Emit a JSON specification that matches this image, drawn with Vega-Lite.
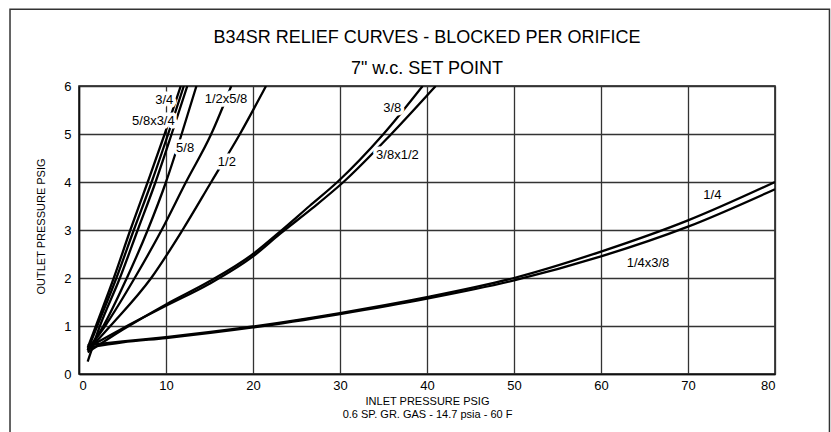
{
  "$schema": "https://vega.github.io/schema/vega-lite/v6.json",
  "width": 696,
  "height": 288,
  "autosize": {"type": "none"},
  "padding": {"left": 79, "top": 86, "right": 56, "bottom": 58},
  "background": "white",
  "title": {
    "text": ["B34SR RELIEF CURVES - BLOCKED PER ORIFICE", "7\" w.c. SET POINT"],
    "fontSize": 18,
    "fontWeight": "normal",
    "font": "Liberation Sans",
    "color": "#000",
    "lineHeight": 31,
    "anchor": "middle",
    "baseline": "alphabetic",
    "offset": -84
  },
  "datasets": {
    "curves": [
      {"curve": "3/4", "x": 1.0, "y": 0.55}, {"curve": "3/4", "x": 2.0, "y": 1.03}, {"curve": "3/4", "x": 4.0, "y": 2.0}, {"curve": "3/4", "x": 5.9, "y": 3.0}, {"curve": "3/4", "x": 7.9, "y": 4.0}, {"curve": "3/4", "x": 9.85, "y": 5.0}, {"curve": "3/4", "x": 11.7, "y": 6.0},
      {"curve": "5/8x3/4", "x": 1.0, "y": 0.5}, {"curve": "5/8x3/4", "x": 2.1, "y": 1.0}, {"curve": "5/8x3/4", "x": 4.3, "y": 2.0}, {"curve": "5/8x3/4", "x": 6.3, "y": 3.0}, {"curve": "5/8x3/4", "x": 8.35, "y": 4.0}, {"curve": "5/8x3/4", "x": 10.25, "y": 5.0}, {"curve": "5/8x3/4", "x": 12.05, "y": 6.0},
      {"curve": "3/4b", "x": 1.0, "y": 0.26}, {"curve": "3/4b", "x": 2.4, "y": 1.0}, {"curve": "3/4b", "x": 4.7, "y": 2.0}, {"curve": "3/4b", "x": 6.75, "y": 3.0}, {"curve": "3/4b", "x": 8.8, "y": 4.0}, {"curve": "3/4b", "x": 10.65, "y": 5.0}, {"curve": "3/4b", "x": 12.45, "y": 6.0},
      {"curve": "5/8", "x": 1.0, "y": 0.5}, {"curve": "5/8", "x": 2.8, "y": 1.0}, {"curve": "5/8", "x": 5.5, "y": 2.0}, {"curve": "5/8", "x": 7.9, "y": 3.0}, {"curve": "5/8", "x": 10.0, "y": 4.0}, {"curve": "5/8", "x": 11.8, "y": 5.0}, {"curve": "5/8", "x": 13.5, "y": 6.0},
      {"curve": "1/2x5/8", "x": 1.0, "y": 0.5}, {"curve": "1/2x5/8", "x": 3.0, "y": 1.0}, {"curve": "1/2x5/8", "x": 6.4, "y": 2.0}, {"curve": "1/2x5/8", "x": 9.5, "y": 3.0}, {"curve": "1/2x5/8", "x": 12.3, "y": 4.0}, {"curve": "1/2x5/8", "x": 15.2, "y": 5.0}, {"curve": "1/2x5/8", "x": 17.5, "y": 6.0},
      {"curve": "1/2", "x": 1.0, "y": 0.48}, {"curve": "1/2", "x": 3.6, "y": 1.0}, {"curve": "1/2", "x": 8.3, "y": 2.0}, {"curve": "1/2", "x": 11.9, "y": 3.0}, {"curve": "1/2", "x": 15.2, "y": 4.0}, {"curve": "1/2", "x": 18.5, "y": 5.0}, {"curve": "1/2", "x": 21.5, "y": 6.0},
      {"curve": "3/8", "x": 1.0, "y": 0.45}, {"curve": "3/8", "x": 5.0, "y": 0.92}, {"curve": "3/8", "x": 10.0, "y": 1.45}, {"curve": "3/8", "x": 15.0, "y": 1.93}, {"curve": "3/8", "x": 20.0, "y": 2.5}, {"curve": "3/8", "x": 23.0, "y": 2.95}, {"curve": "3/8", "x": 26.5, "y": 3.5}, {"curve": "3/8", "x": 29.7, "y": 4.0}, {"curve": "3/8", "x": 35.0, "y": 5.0}, {"curve": "3/8", "x": 39.5, "y": 6.0},
      {"curve": "3/8x1/2", "x": 1.0, "y": 0.55}, {"curve": "3/8x1/2", "x": 5.0, "y": 0.95}, {"curve": "3/8x1/2", "x": 10.0, "y": 1.42}, {"curve": "3/8x1/2", "x": 15.0, "y": 1.88}, {"curve": "3/8x1/2", "x": 20.0, "y": 2.45}, {"curve": "3/8x1/2", "x": 23.1, "y": 2.92}, {"curve": "3/8x1/2", "x": 26.8, "y": 3.45}, {"curve": "3/8x1/2", "x": 30.4, "y": 4.0}, {"curve": "3/8x1/2", "x": 35.9, "y": 5.0}, {"curve": "3/8x1/2", "x": 41.0, "y": 6.0},
      {"curve": "1/4", "x": 1.0, "y": 0.6}, {"curve": "1/4", "x": 5.0, "y": 0.68}, {"curve": "1/4", "x": 10.0, "y": 0.77}, {"curve": "1/4", "x": 20.0, "y": 0.99}, {"curve": "1/4", "x": 30.0, "y": 1.27}, {"curve": "1/4", "x": 40.0, "y": 1.6}, {"curve": "1/4", "x": 50.0, "y": 2.0}, {"curve": "1/4", "x": 60.0, "y": 2.55}, {"curve": "1/4", "x": 70.0, "y": 3.2}, {"curve": "1/4", "x": 80.0, "y": 4.0},
      {"curve": "1/4x3/8", "x": 1.0, "y": 0.55}, {"curve": "1/4x3/8", "x": 5.0, "y": 0.66}, {"curve": "1/4x3/8", "x": 10.0, "y": 0.75}, {"curve": "1/4x3/8", "x": 20.0, "y": 0.97}, {"curve": "1/4x3/8", "x": 30.0, "y": 1.25}, {"curve": "1/4x3/8", "x": 40.0, "y": 1.57}, {"curve": "1/4x3/8", "x": 50.0, "y": 1.95}, {"curve": "1/4x3/8", "x": 60.0, "y": 2.45}, {"curve": "1/4x3/8", "x": 70.0, "y": 3.07}, {"curve": "1/4x3/8", "x": 80.0, "y": 3.85}
    ],
    "labels": [
      {"label": "3/4", "x": 9.8, "y": 5.71},
      {"label": "5/8x3/4", "x": 8.55, "y": 5.27},
      {"label": "5/8", "x": 12.2, "y": 4.71},
      {"label": "1/2x5/8", "x": 16.9, "y": 5.73},
      {"label": "1/2", "x": 17.0, "y": 4.42},
      {"label": "3/8", "x": 36.0, "y": 5.55},
      {"label": "3/8x1/2", "x": 36.6, "y": 4.57},
      {"label": "1/4", "x": 72.8, "y": 3.73},
      {"label": "1/4x3/8", "x": 65.4, "y": 2.31}
    ]
  },
  "layer": [
    {
      "data": {"name": "curves"},
      "mark": {"type": "line", "color": "#000", "strokeWidth": 2.3, "interpolate": "monotone", "clip": true},
      "encoding": {
        "x": {
          "field": "x", "type": "quantitative",
          "scale": {"domain": [0, 80], "nice": false, "zero": false},
          "axis": {"values": [0, 10, 20, 30, 40, 50, 60, 70, 80], "title": ["INLET  PRESSURE PSIG", "0.6 SP. GR. GAS - 14.7 psia - 60 F"], "titleLineHeight": 13, "titlePadding": 3, "labelPadding": 5}
        },
        "y": {
          "field": "y", "type": "quantitative",
          "scale": {"domain": [0, 6], "nice": false, "zero": false},
          "axis": {"values": [0, 1, 2, 3, 4, 5, 6], "title": "OUTLET PRESSURE PSIG", "titlePadding": 17, "labelPadding": 8, "titleY": 140}
        },
        "detail": {"field": "curve"}
      }
    },
    {
      "data": {"name": "labels"},
      "mark": {"type": "text", "fontSize": 13, "stroke": "white", "strokeWidth": 7, "strokeJoin": "round", "fill": "white", "align": "center", "baseline": "middle"},
      "encoding": {
        "x": {"field": "x", "type": "quantitative"},
        "y": {"field": "y", "type": "quantitative"},
        "text": {"field": "label"}
      }
    },
    {
      "data": {"name": "labels"},
      "mark": {"type": "text", "fontSize": 13, "fill": "#000", "align": "center", "baseline": "middle"},
      "encoding": {
        "x": {"field": "x", "type": "quantitative"},
        "y": {"field": "y", "type": "quantitative"},
        "text": {"field": "label"}
      }
    },
    {
      "data": {"values": [{"id": "frame"}]},
      "mark": {"type": "rect", "fillOpacity": 0, "stroke": "#333", "strokeWidth": 1.5, "clip": false},
      "encoding": {
        "x": {"datum": -7.93, "type": "quantitative"},
        "x2": {"datum": 86.26},
        "y": {"datum": 7.6, "type": "quantitative"},
        "y2": {"datum": -1.6}
      }
    }
  ],
  "config": {
    "font": "Liberation Sans",
    "view": {"stroke": "#111", "strokeWidth": 1.5},
    "axis": {
      "domainColor": "#111",
      "domainWidth": 1.5,
      "grid": true,
      "gridColor": "#333",
      "gridWidth": 1.3,
      "gridOpacity": 1,
      "ticks": false,
      "labelFontSize": 13,
      "labelColor": "#000",
      "labelFont": "Liberation Sans",
      "titleFont": "Liberation Sans",
      "titleFontSize": 11,
      "titleFontWeight": "normal",
      "titleColor": "#000"
    }
  }
}
